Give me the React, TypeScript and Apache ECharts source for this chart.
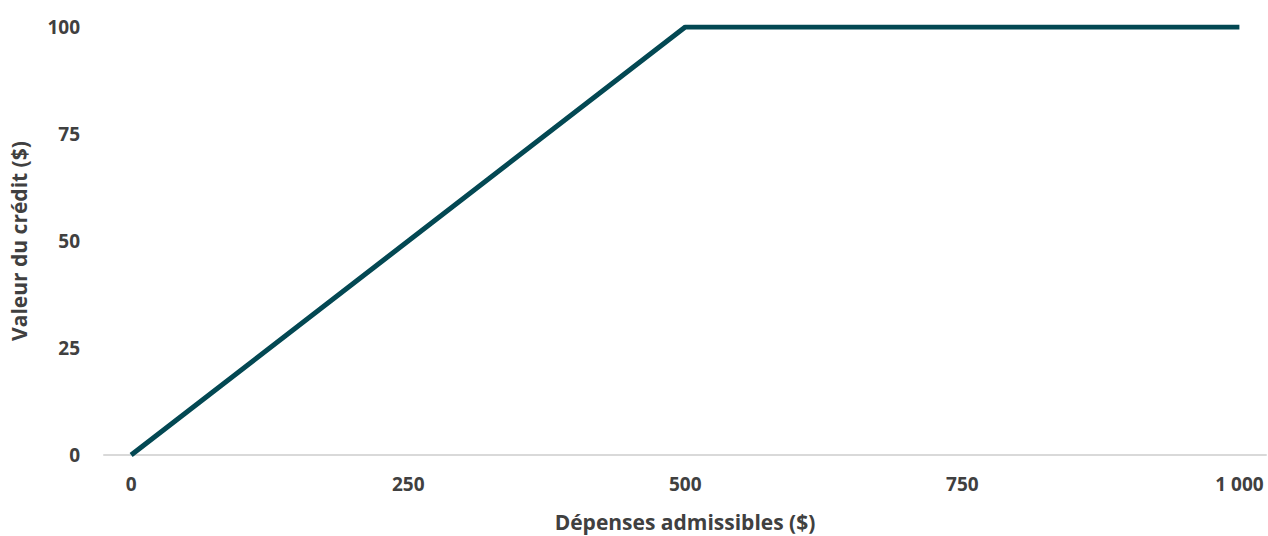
import React, { useEffect, useRef } from "react";
import * as echarts from "echarts";

const depenses = [0, 500, 1000];
const credit = [0, 100, 100];
const xTicks = [0, 250, 500, 750, 1000];
const xTitle = "Dépenses admissibles ($)";
const yTitle = "Valeur du crédit ($)";

const fmt = (v: number) => String(v).replace(/\B(?=(\d{3})+(?!\d))/g, " ");

export default function App() {
  const ref = useRef<HTMLDivElement>(null);
  useEffect(() => {
    const chart = echarts.init(ref.current!, null, { renderer: "svg" });
    const font = "'Open Sans', sans-serif";
    chart.setOption({
      animation: false,
      grid: { left: 104, right: 2, top: 27, bottom: 81, containLabel: false, outerBoundsMode: "none" },
      xAxis: {
        type: "value",
        min: -24.5,
        max: 1024,
        name: xTitle,
        nameLocation: "middle",
        nameGap: 55,
        nameTextStyle: { color: "#404040", fontWeight: "bold", fontSize: 21, fontFamily: font, lineHeight: 24 },
        axisLine: { show: true, lineStyle: { color: "#d9d9d9", width: 2 } },
        axisTick: { show: false },
        splitLine: { show: false },
        axisLabel: {
          customValues: xTicks,
          formatter: (v: number) => fmt(v),
          color: "#404040",
          fontWeight: "bold",
          fontSize: 19,
          fontFamily: font,
          margin: 19,
        },
      },
      yAxis: {
        type: "value",
        min: 0,
        max: 100,
        interval: 25,
        name: yTitle,
        nameLocation: "middle",
        nameGap: 75,
        nameTextStyle: { color: "#404040", fontWeight: "bold", fontSize: 21, fontFamily: font },
        axisLine: { show: false },
        axisTick: { show: false },
        splitLine: { show: false },
        axisLabel: {
          color: "#404040",
          fontWeight: "bold",
          fontSize: 19,
          fontFamily: font,
          margin: 24,
        },
      },
      series: [
        {
          type: "line",
          data: depenses.map((x, i) => [x, credit[i]]),
          symbol: "none",
          lineStyle: { color: "#034853", width: 5 },
        },
      ],
    });
    return () => chart.dispose();
  }, []);
  return <div ref={ref} style={{ width: 1268, height: 536, position: "absolute", left: 0, top: 0 }} />;
}
